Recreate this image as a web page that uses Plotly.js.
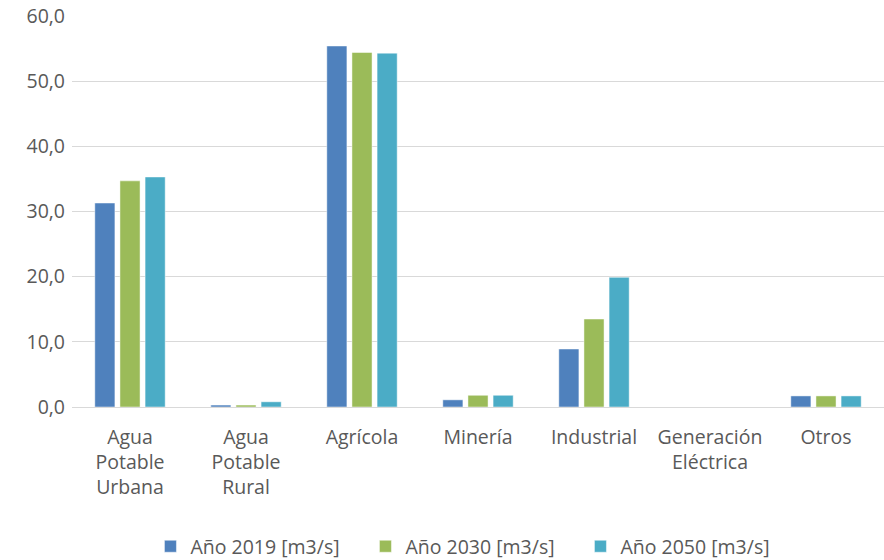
<!DOCTYPE html>
<html>
<head>
<meta charset="utf-8">
<script src="https://cdn.plot.ly/plotly-3.0.1.min.js"></script>
<style>html,body{margin:0;padding:0;background:#fff}#chart{width:884px;height:560px}</style>
</head>
<body>
<div id="chart"></div>
<script>
const categories = ["Agua<br>Potable<br>Urbana", "Agua<br>Potable<br>Rural", "Agrícola", "Minería", "Industrial", "Generación<br>Eléctrica", "Otros"];
const seriesNames = ["Año 2019 [m3/s]", "Año 2030 [m3/s]", "Año 2050 [m3/s]"];
const values2019 = [31.3, 0.3, 55.4, 1.1, 8.9, 0.0, 1.7];
const values2030 = [34.7, 0.3, 54.4, 1.8, 13.5, 0.0, 1.7];
const values2050 = [35.3, 0.8, 54.3, 1.8, 19.9, 0.0, 1.7];
const colors = ["#4f81bd", "#9bbb59", "#4bacc6"];
const allValues = [values2019, values2030, values2050];

const traces = allValues.map((v, i) => ({
  type: "bar",
  name: seriesNames[i],
  x: categories,
  y: v,
  marker: {color: colors[i], line: {color: "rgba(255,255,255,0.6)", width: 0.8}},
  hoverinfo: "skip"
}));

const font = {family: "Open Sans, Noto Sans, sans-serif", size: 19.5, color: "#595959"};
const layout = {
  width: 884, height: 560,
  margin: {l: 72, r: 0, t: 16, b: 153},
  paper_bgcolor: "#fff", plot_bgcolor: "#fff",
  separators: ",.",
  font: font,
  barmode: "group",
  bargap: 0.35,
  bargroupgap: 0.2,
  showlegend: true,
  legend: {orientation: "h", x: 0.535, xref: "container", xanchor: "center", y: 0.024, yref: "container", yanchor: "middle", font: font, traceorder: "normal", entrywidth: 170, itemwidth: 30},
  xaxis: {
    showgrid: false, zeroline: false, showline: false, ticks: "",
    tickfont: font, automargin: false, ticklabelstandoff: 16
  },
  yaxis: {
    range: [0, 60], dtick: 10, tickformat: ".1f",
    showgrid: true, gridcolor: "#d9d9d9", gridwidth: 1,
    zeroline: true, zerolinecolor: "#d9d9d9", zerolinewidth: 1,
    showline: false, ticks: "", tickfont: font, automargin: false,
    ticklabelstandoff: 6
  }
};
Plotly.newPlot("chart", traces, layout, {displayModeBar: false, staticPlot: true});
</script>
</body>
</html>
